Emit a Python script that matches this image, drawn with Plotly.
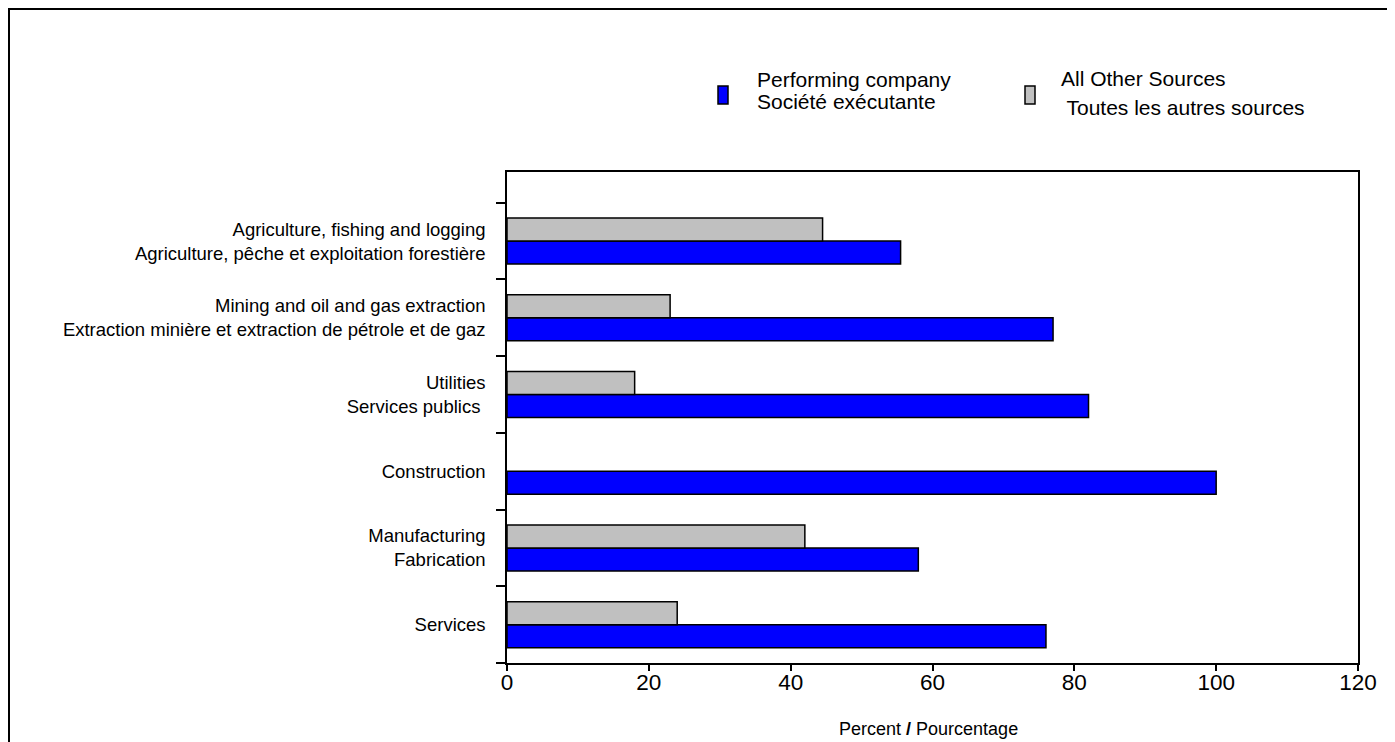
import plotly.graph_objects as go

# Data (top-to-bottom order as shown)
categories = [
    "Agriculture, fishing and logging<br>Agriculture, pêche et exploitation forestière",
    "Mining and oil and gas extraction<br>Extraction minière et extraction de pétrole et de gaz",
    "Utilities<br>Services publics ",
    "Construction",
    "Manufacturing<br>Fabrication",
    "Services",
]
performing_company = [55.5, 77, 82, 100, 58, 76]
all_other_sources = [44.5, 23, 18, 0, 42, 24]
x_ticks = [0, 20, 40, 60, 80, 100, 120]

legend_perf = ["Performing company", "Société exécutante"]
legend_other = ["All Other Sources", " Toutes les autres sources"]
x_title = "Percent <b>/</b> Pourcentage"

OFF = 8  # browser body margin
W, H = 1395 - OFF, 742 - OFF
# target page coordinates of the plot area
PL, PR, PT, PB = 507, 1358, 172, 663
L, R, T, B = PL - OFF, PR - OFF, PT - OFF, PB - OFF
FONT = "Liberation Sans, Arial, sans-serif"

def px(x):  # page x -> paper
    return (x - OFF - L) / (R - L)

def py(y):  # page y -> paper
    return (B - (y - OFF)) / (B - T)

cats_bottom_up = categories[::-1]
perf_bu = performing_company[::-1]
other_bu = all_other_sources[::-1]

fig = go.Figure()
fig.add_trace(go.Bar(
    y=cats_bottom_up, x=perf_bu, orientation="h",
    name="Performing company",
    marker=dict(color="#0000FF", line=dict(color="black", width=[1.5 if v > 0 else 0 for v in perf_bu])),
    showlegend=False,
))
fig.add_trace(go.Bar(
    y=cats_bottom_up, x=other_bu, orientation="h",
    name="All Other Sources",
    marker=dict(color="#C0C0C0", line=dict(color="black", width=[1.5 if v > 0 else 0 for v in other_bu])),
    showlegend=False,
))

n = len(categories)
top_extra = (241 - 38.3 - PT) / 76.6

fig.update_layout(
    width=W, height=H,
    margin=dict(l=L, r=W - R, t=T, b=H - B, pad=0, autoexpand=False),
    paper_bgcolor="white", plot_bgcolor="white",
    barmode="group", bargap=0.4, bargroupgap=0,
    font=dict(family=FONT, color="black", size=16),
    xaxis=dict(
        range=[0, 120], tickvals=x_ticks, ticktext=[str(v) for v in x_ticks],
        showgrid=False, zeroline=False, showline=True, linecolor="black", linewidth=1.5,
        mirror=True, ticks="outside", ticklen=6, tickwidth=1.5, tickcolor="black",
        tickfont=dict(size=22.5, family=FONT), fixedrange=True, automargin=False,
        ticklabelstandoff=-8,
    ),
    yaxis=dict(
        type="category", categoryarray=cats_bottom_up,
        range=[-0.5, n - 0.5 + top_extra],
        tickson="boundaries", ticks="outside", ticklen=9, tickwidth=1.5, tickcolor="black",
        showgrid=False, zeroline=False, showline=True, linecolor="black", linewidth=1.5,
        mirror=True, tickfont=dict(size=18.5, family=FONT), ticklabelstandoff=16,
        fixedrange=True, automargin=False,
    ),
)

# X axis title
fig.add_annotation(xref="paper", yref="paper", x=px(928), y=py(729), text=x_title,
                   showarrow=False, xanchor="center", yanchor="middle",
                   font=dict(size=18, family=FONT, color="black"))

# Outer frame
fig.add_shape(type="rect", xref="paper", yref="paper",
              x0=px(9), x1=px(1390), y0=py(770), y1=py(9),
              line=dict(color="black", width=2), fillcolor="rgba(0,0,0,0)", layer="below")

# Custom legend
def legend_item(x_box, y_top, y_bot, color, lines, x_text, y_lines):
    fig.add_shape(type="rect", xref="paper", yref="paper",
                  x0=px(x_box), x1=px(x_box + 10), y0=py(y_bot), y1=py(y_top),
                  line=dict(color="black", width=1.5), fillcolor=color)
    for txt, xt, yt in zip(lines, x_text, y_lines):
        fig.add_annotation(xref="paper", yref="paper", x=px(xt), y=py(yt),
                           text=txt, showarrow=False, xanchor="left", yanchor="middle",
                           font=dict(size=21, family=FONT, color="black"))

legend_item(718, 86, 104, "#0000FF", legend_perf, [755, 755], [79, 102])
legend_item(1025, 86, 104, "#C0C0C0", legend_other, [1059, 1059], [78, 107])

fig.write_html("out.html")
